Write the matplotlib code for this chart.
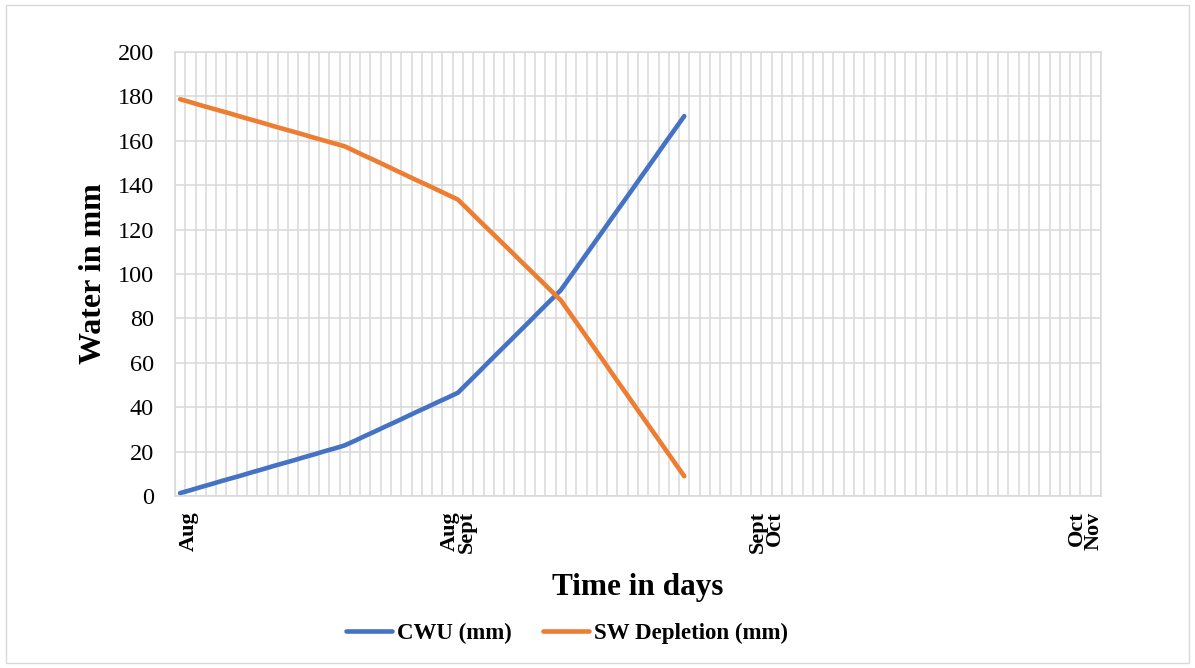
import matplotlib
matplotlib.use("Agg")
import matplotlib.pyplot as plt
from matplotlib.patches import Rectangle
from matplotlib.ticker import MultipleLocator, FixedLocator

plt.rcParams['font.family'] = ['Liberation Serif', 'DejaVu Serif']

# daily series, one value per day from the start of August
cwu = [1.3, 2.6, 4.0, 5.3, 6.7, 8.0, 9.3, 10.7, 12.0, 13.4, 14.7, 16.0, 17.4, 18.7,
       20.1, 21.4, 22.8, 24.9, 27.1, 29.2, 31.4, 33.5, 35.7, 37.9, 40.0, 42.2, 44.3,
       46.5, 51.1, 55.7, 60.4, 65.0, 69.6, 74.2, 78.8, 83.5, 88.1, 92.7, 99.2, 105.8,
       112.3, 118.8, 125.4, 131.9, 138.4, 145.0, 151.5, 158.1, 164.6, 171.1]
sw_depletion = [178.7, 177.4, 176.0, 174.7, 173.4, 172.1, 170.7, 169.4, 168.1, 166.7,
                165.4, 164.1, 162.8, 161.4, 160.1, 158.8, 157.5, 155.3, 153.1, 151.0,
                148.8, 146.6, 144.4, 142.2, 140.1, 137.9, 135.7, 133.5, 129.0, 124.4,
                119.9, 115.4, 110.9, 106.3, 101.8, 97.3, 92.7, 88.2, 81.6, 75.0, 68.4,
                61.8, 55.1, 48.5, 41.9, 35.3, 28.7, 22.1, 15.5, 8.9]

n_days = 90
month_pos = [0, 27, 57, 88]
month_labels = [" \nAug", "Aug\nSept", "Sept\nOct", "Oct\nNov"]

blue = "#4472C4"
orange = "#ED7D31"
grid_col = "#D9D9D9"

fig = plt.figure(figsize=(11.95, 6.68), dpi=100)
fig.patches.append(Rectangle((0.005, 0.008), 0.99, 0.984, transform=fig.transFigure,
                             fill=False, edgecolor=grid_col, linewidth=1))
ax = fig.add_axes([0.1464, 0.2575, 0.7749, 0.6647])

days = list(range(len(cwu)))
ax.plot(days, cwu, color=blue, lw=3.3, solid_capstyle='round', label="CWU (mm)")
ax.plot(days, sw_depletion, color=orange, lw=3.3, solid_capstyle='round',
        label="SW Depletion (mm)")

ax.set_xlim(-0.5, n_days - 0.5)
ax.set_ylim(0, 200)
ax.yaxis.set_major_locator(MultipleLocator(20))

# category boundaries carry the vertical grid
ax.xaxis.set_minor_locator(FixedLocator([k - 0.5 for k in range(n_days + 1)]))
ax.set_xticks(month_pos)
ax.set_xticklabels(month_labels, rotation=90, fontsize=16, fontweight='bold',
                   linespacing=0.8, multialignment='right')
ax.grid(which='minor', axis='x', color=grid_col, lw=1.1)
ax.grid(which='major', axis='y', color=grid_col, lw=1.1)
ax.grid(which='major', axis='x', visible=False)
ax.set_axisbelow(True)
ax.tick_params(axis='x', which='both', length=0, pad=11)
ax.tick_params(axis='y', length=0, pad=15, labelsize=17.5)
for s in ax.spines.values():
    s.set_color(grid_col)
    s.set_linewidth(1.1)

ax.set_xlabel("Time in days", fontsize=22.5, fontweight='bold', labelpad=14)
ax.set_ylabel("Water in mm", fontsize=23, fontweight='bold', labelpad=7)

fig.legend(loc='center', bbox_to_anchor=(567 / 1195, 0.052), ncol=2, frameon=False,
           prop={'size': 16.5, 'weight': 'bold'}, handlelength=2.0,
           handletextpad=0.2, columnspacing=1.4)

fig.savefig("out.png", dpi=100)
